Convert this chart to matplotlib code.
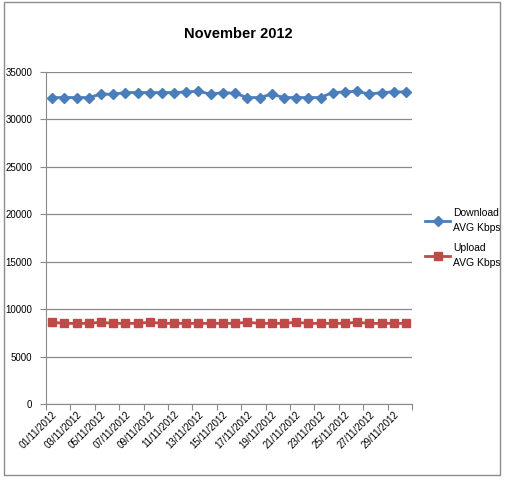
import matplotlib
matplotlib.use("Agg")
import matplotlib.pyplot as plt
from matplotlib.patches import Rectangle

plt.rcParams['font.family'] = ['Liberation Sans', 'DejaVu Sans']

dates = ["%02d/11/2012" % d for d in range(1, 31)]
download = [32310, 32310, 32310, 32310, 32660, 32660, 32835, 32835, 32835, 32835,
            32835, 32900, 32980, 32660, 32835, 32750, 32310, 32310, 32660, 32310,
            32310, 32310, 32310, 32835, 32900, 32980, 32660, 32835, 32900, 32900]
upload = [8620, 8500, 8500, 8500, 8620, 8500, 8500, 8500, 8620, 8500,
          8500, 8500, 8500, 8500, 8500, 8500, 8620, 8500, 8500, 8500,
          8620, 8500, 8500, 8500, 8500, 8620, 8500, 8500, 8500, 8500]
yticks = [0, 5000, 10000, 15000, 20000, 25000, 30000, 35000]

fig = plt.figure(figsize=(5.12, 4.8), dpi=100)
fig.patches.append(Rectangle((4 / 512, 1 - 475 / 480), 496 / 512, 473 / 480,
                             transform=fig.transFigure, fill=False,
                             edgecolor='#8c8c8c', linewidth=1.0))
ax = fig.add_axes([46 / 512, 1 - 404 / 480, 366 / 512, 332 / 480])

x = list(range(len(dates)))
ax.plot(x, download, color='#4A7EBB', linewidth=2.0, marker='D', markersize=4.8,
        label='Download\nAVG Kbps', zorder=3)
ax.plot(x, upload, color='#BE4B48', linewidth=2.0, marker='s', markersize=6.2,
        label='Upload\nAVG Kbps', zorder=3)

ax.set_xlim(-0.5, len(dates) - 0.5)
ax.set_ylim(0, 35000)
ax.set_yticks(yticks)
ax.set_yticklabels([str(v) for v in yticks], fontsize=7)
ax.yaxis.grid(True, color='#8a8a8a', linewidth=0.9)
ax.set_axisbelow(True)

# category ticks between labels, labels on every other category
ax.set_xticks([i - 0.5 for i in range(0, len(dates) + 1, 2)])
ax.set_xticklabels([])
ax.set_xticks(x[::2], minor=True)
ax.set_xticklabels(dates[::2], minor=True, rotation=45, ha='right',
                   rotation_mode='anchor', fontsize=7)
ax.tick_params(axis='x', which='minor', length=0, pad=4)
ax.tick_params(axis='x', which='major', length=4, color='#8a8a8a')
ax.tick_params(axis='y', length=4, color='#8a8a8a', pad=6)

for s in ['top', 'right']:
    ax.spines[s].set_visible(False)
for s in ['left', 'bottom']:
    ax.spines[s].set_color('#8a8a8a')

fig.text(238 / 512, 1 - 34 / 480, 'November 2012', ha='center', va='center',
         fontsize=10.5, fontweight='bold')

leg = ax.legend(loc='center left', bbox_to_anchor=(1.01, 0.5), frameon=False,
                fontsize=7.5, handlelength=2.4, handletextpad=0.3,
                labelspacing=0.9)
for t in leg.get_texts():
    t.set_linespacing(1.7)

fig.savefig('out.png', dpi=100)
